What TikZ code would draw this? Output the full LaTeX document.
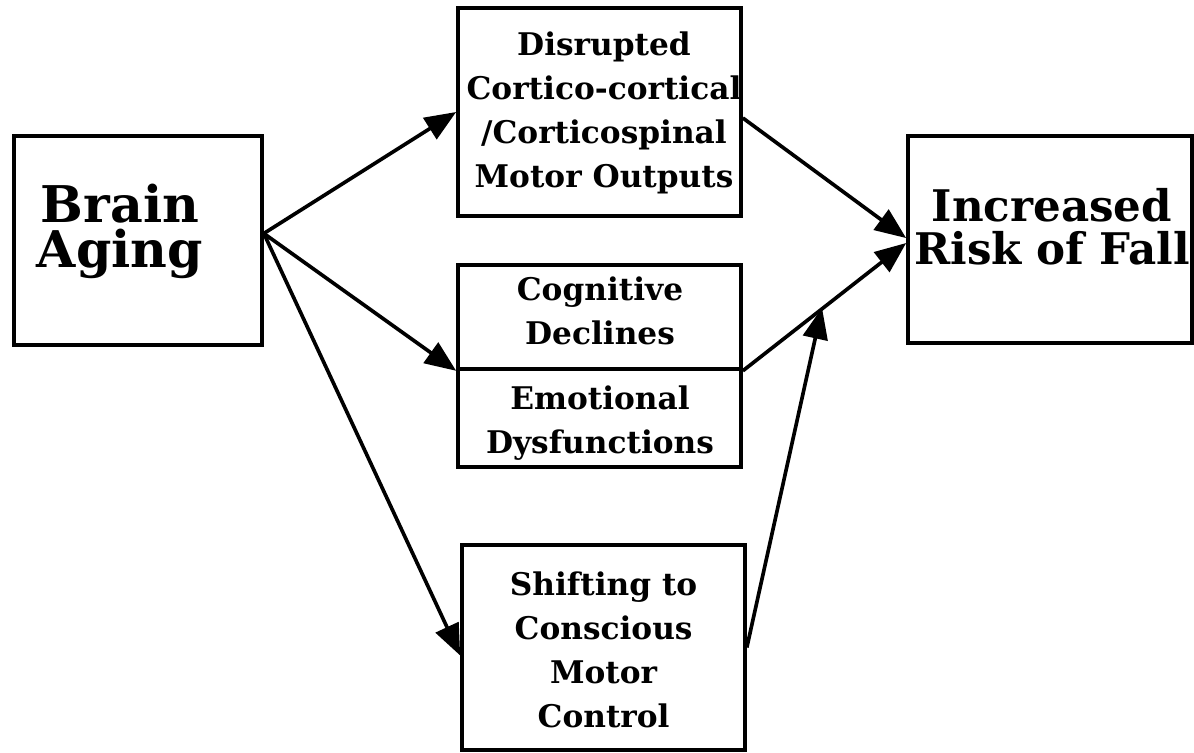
\documentclass[tikz,border=0pt]{standalone}
\usepackage{fontspec}
\setmainfont{DejaVu Serif}
\usetikzlibrary{arrows.meta}
\begin{document}
\begin{tikzpicture}
\tikzset{block/.style={draw, line width=2.6pt, inner sep=0pt, minimum width=7.075cm},
  bigtext/.style={font=\fontsize{36}{32.7}\selectfont\bfseries, align=center},
  boxtext/.style={font=\fontsize{22.2}{31.3}\selectfont\bfseries, align=center},
  link/.style={line width=2.6pt, -{Triangle[length=0.78cm,width=0.62cm]}}}
    \useasboundingbox (0,0) rectangle (29.85,18.825);

    \node[block, minimum width=6.2cm, minimum height=5.225cm] at (3.45,12.8125) (brain) {};
    \node[block, minimum height=5.2cm] at (14.9875,16.025) (disr) {};
    \node[block, minimum height=2.6cm] at (14.9875,10.9) (cog) {};
    \node[block, minimum height=2.45cm] at (14.9875,8.375) (emo) {};
    \node[block, minimum height=5.125cm] at (15.0875,2.6375) (shift) {};
    \node[block, minimum width=7.1cm, minimum height=5.175cm] at (26.25,12.8375) (risk) {};

    \node[bigtext] at (3.0,13.04) {Brain\\Aging};
    \node[bigtext, font=\fontsize{31}{30.6}\selectfont\bfseries] at (26.3,13.15) {Increased\\Risk of Fall};
    \node[boxtext] at (15.1,16.0) {Disrupted\\Cortico-cortical\\/Corticospinal\\Motor Outputs};
    \node[boxtext] at (15.0,11.05) {Cognitive\\Declines};
    \node[boxtext] at (15.0,8.25) {Emotional\\Dysfunctions};
    \node[boxtext] at (15.09,2.57) {Shifting to\\Conscious\\Motor\\Control};

    \coordinate (meet) at (20.55,11.13);

    \draw[link] ([yshift=5pt]brain.east) -- (disr.west);
    \draw[link] ([yshift=5pt]brain.east) -- (cog.south west);
    \draw[link] ([yshift=5pt]brain.east) -- ([yshift=-0.2cm]shift.west);
    \draw[link] ([yshift=-0.15cm]disr.east) -- ([yshift=1pt]risk.west);
    \draw[link] (cog.south east) -- ([yshift=-2.5pt]risk.west);
    \draw[link] (shift.east) -- (meet);
  \end{tikzpicture}
\end{document}
